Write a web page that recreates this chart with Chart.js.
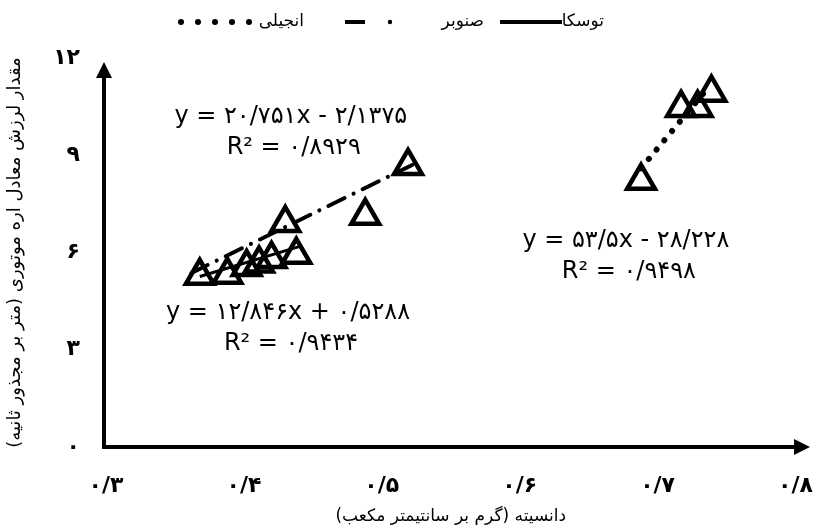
<!DOCTYPE html>
<html>
<head>
<meta charset="utf-8">
<script src="https://cdn.jsdelivr.net/npm/chart.js@4"></script>
<style>
  body { margin: 0; background: #fff; }
  canvas { display: block; }
</style>
</head>
<body>
<canvas id="chart" width="816" height="532"></canvas>
<script>
// series names (legend, right to left)
const seriesNames = ['توسکا', 'صنوبر', 'انجیلی'];

// measured points
const tuskaX = [0.368, 0.388, 0.411, 0.420, 0.438];
const tuskaY = [5.28, 5.31, 5.66, 5.80, 5.93];
const sanobarX = [0.402, 0.430, 0.488, 0.519];
const sanobarY = [5.55, 6.91, 7.13, 8.67];
const anjiliX = [0.688, 0.717, 0.729, 0.739];
const anjiliY = [8.21, 10.46, 10.46, 10.93];

// trend line end points
const tuskaTrendX = [0.368, 0.440];
const tuskaTrendY = [5.26, 6.18];
const sanobarTrendX = [0.362, 0.522];
const sanobarTrendY = [5.37, 8.70];
const anjiliTrendX = [0.688, 0.735];
const anjiliTrendY = [8.60, 11.00];

// tick labels
const xTickValues = [0.3, 0.4, 0.5, 0.6, 0.7, 0.8];
const xTickLabels = ['۰/۳', '۰/۴', '۰/۵', '۰/۶', '۰/۷', '۰/۸'];
const yTickValues = [0, 3, 6, 9, 12];
const yTickLabels = ['۰', '۳', '۶', '۹', '۱۲'];

// equation labels
const eqTexts = [
  ['y = ۲۰/۷۵۱x - ۲/۱۳۷۵', 'R² = ۰/۸۹۲۹'],
  ['y = ۱۲/۸۴۶x + ۰/۵۲۸۸', 'R² = ۰/۹۴۳۴'],
  ['y = ۵۳/۵x - ۲۸/۲۲۸', 'R² = ۰/۹۴۹۸']
];
const eqX = [0.434, 0.432, 0.677];
const eqY = [10.2, 4.15, 6.35];

const xTitle = 'دانسیته (گرم بر سانتیمتر مکعب)';
const yTitle = 'مقدار لرزش معادل اره موتوری (متر بر مجذور ثانیه)';

const FONT = "'DejaVu Sans', sans-serif";

function pts(xs, ys) {
  return xs.map((x, i) => ({ x: x, y: ys[i] }));
}

function markerSet(xs, ys) {
  return {
    data: pts(xs, ys),
    showLine: false,
    pointStyle: 'triangle',
    pointRadius: 16,
    pointBorderWidth: 4.5,
    pointBorderColor: '#000',
    pointBackgroundColor: 'rgba(0,0,0,0)'
  };
}

function trendSet(xs, ys, dash, width) {
  return {
    data: pts(xs, ys),
    showLine: true,
    pointRadius: 0,
    borderColor: '#000',
    borderWidth: width,
    borderDash: dash,
    borderCapStyle: dash.length ? 'round' : 'butt'
  };
}

// axes with arrows, legend, equations
const decor = {
  id: 'decor',
  afterDraw(chart) {
    const c = chart.ctx;
    const xs = chart.scales.x, ys = chart.scales.y;
    const x0 = chart.chartArea.left - 2, y0 = chart.chartArea.bottom;
    c.save();
    c.strokeStyle = '#000';
    c.fillStyle = '#000';
    c.lineWidth = 4;
    c.beginPath();
    c.moveTo(x0, 72);
    c.lineTo(x0, y0);
    c.lineTo(798, y0);
    c.stroke();
    c.beginPath();
    c.moveTo(x0, 62); c.lineTo(x0 - 8, 78); c.lineTo(x0 + 8, 78); c.closePath();
    c.fill();
    c.beginPath();
    c.moveTo(810, y0); c.lineTo(794, y0 - 8); c.lineTo(794, y0 + 8); c.closePath();
    c.fill();

    // equations
    c.font = '24px ' + FONT;
    c.textAlign = 'center';
    c.textBaseline = 'middle';
    eqTexts.forEach((lines, i) => {
      const px = xs.getPixelForValue(eqX[i]);
      const py = ys.getPixelForValue(eqY[i]);
      c.fillText(lines[0], px, py);
      c.fillText(lines[1], px + 3, py + 31);
    });

    // legend
    const ly = 22;
    c.font = '17px ' + FONT;
    c.textAlign = 'right';
    c.direction = 'rtl';
    c.fillText(seriesNames[0], 604, ly);
    c.fillText(seriesNames[1], 484, ly);
    c.fillText(seriesNames[2], 304, ly);
    c.lineWidth = 4;
    c.lineCap = 'butt';
    c.beginPath(); c.moveTo(500, ly); c.lineTo(562, ly); c.stroke();
    c.beginPath(); c.moveTo(345, ly); c.lineTo(365, ly); c.stroke();
    c.beginPath(); c.arc(390, ly, 2.2, 0, Math.PI * 2); c.fill();
    [181, 198, 215, 232, 249].forEach(d => {
      c.beginPath(); c.arc(d, ly, 3, 0, Math.PI * 2); c.fill();
    });
    c.restore();
  }
};

new Chart(document.getElementById('chart'), {
  type: 'scatter',
  data: {
    datasets: [
      markerSet(tuskaX, tuskaY),
      markerSet(sanobarX, sanobarY),
      markerSet(anjiliX, anjiliY),
      trendSet(tuskaTrendX, tuskaTrendY, [], 3),
      trendSet(sanobarTrendX, sanobarTrendY, [18, 10, 0.1, 10], 4),
      trendSet(anjiliTrendX, anjiliTrendY, [0.1, 12], 6)
    ]
  },
  options: {
    responsive: false,
    animation: false,
    layout: { padding: { top: 58, right: 16, left: 0, bottom: 0 } },
    plugins: { legend: { display: false }, tooltip: { enabled: false } },
    scales: {
      x: {
        type: 'linear',
        min: 0.3, max: 0.8,
        grid: { display: false, drawTicks: false },
        border: { display: false },
        afterBuildTicks: s => { s.ticks = xTickValues.map(v => ({ value: v })); },
        ticks: {
          padding: 26,
          color: '#000',
          font: { family: FONT, size: 22, weight: 'bold' },
          callback: (v) => xTickLabels[xTickValues.findIndex(t => Math.abs(t - v) < 1e-6)]
        },
        title: {
          display: true, text: xTitle, color: '#000',
          font: { family: FONT, size: 17 },
          padding: { top: 0, bottom: 5 }
        },
        afterFit: s => { s.height = 85; s.paddingLeft = 0; s.paddingRight = 0; }
      },
      y: {
        min: 0, max: 12,
        grid: { display: false, drawTicks: false },
        border: { display: false },
        afterBuildTicks: s => { s.ticks = yTickValues.map(v => ({ value: v })); },
        ticks: {
          padding: 26,
          color: '#000',
          font: { family: FONT, size: 22, weight: 'bold' },
          callback: (v) => yTickLabels[yTickValues.indexOf(v)]
        },
        title: {
          display: true, text: yTitle, color: '#000',
          font: { family: FONT, size: 18 },
          padding: { top: 5, bottom: 0 }
        },
        afterFit: s => { s.width = 106; s.paddingTop = 0; s.paddingBottom = 0; }
      }
    }
  },
  plugins: [decor]
});
</script>
</body>
</html>
